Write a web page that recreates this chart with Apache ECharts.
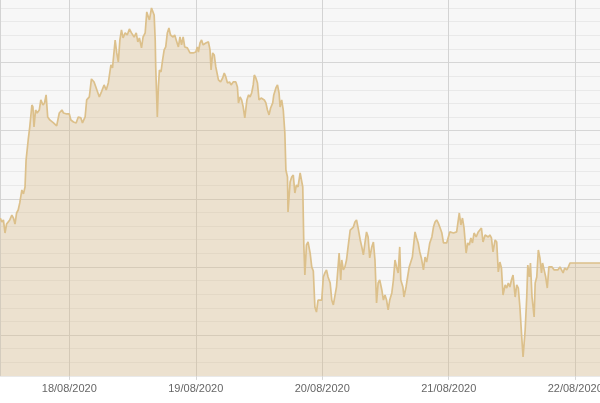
<!DOCTYPE html>
<html>
<head>
<meta charset="utf-8">
<script src="https://cdn.jsdelivr.net/npm/echarts@6/dist/echarts.min.js"></script>
<style>
html,body{margin:0;padding:0;background:#fff;}
#chart{width:600px;height:403px;}
</style>
</head>
<body>
<div id="chart"></div>
<script>
// Time of each reading, in hours since 17/08/2020 00:00
var hoursSinceAug17 = [
10.9,11.2,11.5,11.8,12.1,12.4,12.7,13.1,13.4,13.7,
14.0,14.3,14.6,15.0,15.3,15.6,15.8,16.2,16.5,16.9,
17.1,17.3,17.6,17.9,18.3,18.6,19.0,19.3,19.6,19.9,
20.3,21.0,21.6,22.1,22.6,22.9,23.5,24.0,24.3,24.8,
25.3,25.7,26.2,26.5,27.0,27.3,27.8,28.2,28.7,29.1,
29.4,29.7,30.1,30.6,31.0,31.4,31.9,32.2,32.7,33.0,
33.3,33.6,33.9,34.2,34.6,35.0,35.4,35.8,36.3,36.7,
37.0,37.3,37.7,38.0,38.4,38.7,39.0,39.2,39.6,39.9,
40.1,40.3,40.4,40.7,40.9,41.1,41.4,41.7,42.0,42.3,
42.6,42.9,43.2,43.7,44.0,44.4,44.7,45.0,45.3,45.6,
45.9,46.4,46.9,47.5,48.0,48.3,48.5,48.8,49.1,49.4,
49.9,50.4,50.7,50.9,51.2,51.5,51.8,52.3,52.7,53.1,
53.4,53.7,54.0,54.4,54.7,55.1,55.6,55.9,56.1,56.4,
56.7,57.0,57.3,57.7,58.0,58.3,58.6,58.9,59.1,59.4,
59.7,60.0,60.4,60.7,61.0,61.3,61.6,61.9,62.2,62.6,
62.8,63.2,63.5,63.8,64.0,64.3,64.6,64.9,65.1,65.4,
65.5,65.9,66.2,66.5,66.8,67.1,67.4,67.8,68.1,68.3,
68.5,68.7,69.0,69.3,69.7,70.0,70.3,70.6,70.9,71.2,
71.9,72.2,72.5,72.8,73.1,73.5,73.8,74.1,74.4,74.7,
75.0,75.2,75.5,75.7,76.0,76.3,76.6,76.9,77.3,77.6,
77.9,78.2,78.5,78.8,79.2,79.5,79.8,80.1,80.4,80.7,
81.0,81.4,81.7,82.0,82.3,82.6,82.9,83.3,83.6,83.9,
84.2,84.5,84.8,85.2,85.5,85.8,86.1,86.4,86.7,86.9,
87.3,87.5,87.9,88.1,88.5,88.8,89.1,89.6,89.9,90.2,
90.5,90.8,91.2,91.5,91.8,92.1,92.4,92.8,93.1,93.4,
93.7,94.0,94.3,94.7,95.0,95.6,95.9,96.2,96.9,97.5,
98.0,98.3,98.6,98.9,99.3,99.6,99.9,100.2,100.5,100.8,
101.2,101.6,101.9,102.2,102.5,102.9,103.2,103.5,103.8,104.1,
104.4,104.8,105.1,105.4,105.7,106.0,106.3,106.7,107.0,107.3,
107.6,107.9,108.2,108.6,108.9,109.2,109.5,109.8,110.1,110.5,
110.8,111.0,111.3,111.5,111.8,112.2,112.4,112.7,113.0,113.3,
113.6,113.8,114.1,114.4,114.7,115.0,115.3,115.6,116.0,116.3,
116.7,117.1,117.4,117.7,118.0,118.4,118.7,119.0,124.7
];
// Reading at each time (grid units above the chart floor)
var values = [
11.59,11.30,11.45,10.49,11.15,11.30,11.45,11.81,11.59,11.15,
11.96,12.18,12.70,13.65,13.36,13.87,15.85,17.32,18.28,19.89,
19.74,18.28,19.52,19.30,19.52,20.26,19.89,20.04,20.63,19.01,
18.79,18.57,18.35,19.30,19.52,19.30,19.23,19.23,18.79,18.64,
18.57,19.01,18.94,18.57,19.01,20.26,20.48,21.80,21.58,21.14,
21.21,20.48,20.85,21.36,20.99,21.51,22.83,22.61,24.66,23.71,
23.05,24.66,25.40,24.81,25.18,25.03,25.47,25.18,24.88,25.18,
24.52,24.81,24.08,24.88,25.18,26.72,26.35,26.13,27.01,26.87,
26.50,24.66,22.68,19.01,21.21,22.46,22.31,23.19,23.93,24.15,
25.18,25.54,25.03,24.88,25.03,24.52,24.15,24.88,24.30,24.88,
24.15,24.08,23.71,23.71,23.78,24.15,23.78,24.44,24.66,24.30,
24.44,24.52,23.93,22.46,23.71,23.56,22.68,21.73,21.58,21.87,
22.24,21.95,21.51,21.58,21.36,21.58,21.58,21.21,20.04,20.48,
20.26,19.74,18.94,20.26,20.63,20.48,20.77,21.36,22.09,21.87,
21.51,20.26,20.40,20.40,20.26,20.04,19.52,19.16,19.67,20.04,
20.63,21.14,21.36,20.77,19.74,20.26,19.52,17.83,15.12,14.60,
12.03,14.24,14.60,14.75,13.43,14.02,13.87,14.90,14.97,13.87,
9.61,7.41,9.61,9.83,9.02,8.00,7.70,5.06,4.69,5.57,
5.57,7.26,7.56,7.78,7.26,6.82,5.57,5.21,5.35,6.53,
8.00,9.02,7.04,8.51,7.78,8.00,8.51,9.47,10.71,10.57,
10.93,11.30,11.45,10.86,9.98,9.47,8.88,9.76,10.57,10.20,
8.66,9.47,9.83,8.51,5.35,6.82,7.04,6.31,5.57,5.94,
5.57,4.84,5.57,6.09,7.04,8.51,8.00,7.56,9.47,7.04,
6.53,5.79,6.53,7.04,8.00,8.14,8.73,10.57,10.13,9.76,
9.10,8.66,7.78,8.73,8.36,9.02,9.76,10.20,10.93,11.30,
11.45,11.23,10.93,10.49,9.76,9.76,9.76,10.57,10.49,10.57,
11.96,11.08,11.59,10.86,9.02,9.76,9.61,10.13,9.76,10.49,
10.20,10.57,10.71,10.86,9.83,10.35,10.49,10.20,10.35,10.13,
9.10,9.98,9.83,7.63,8.36,7.92,5.94,6.68,6.45,6.82,
6.53,7.04,7.41,5.79,6.68,6.45,5.06,3.15,1.39,3.37,
5.79,8.14,7.26,8.29,5.79,4.33,6.82,7.26,9.24,8.66,
7.56,8.29,7.78,7.26,6.45,8.00,8.14,8.00,7.78,7.92,
7.78,8.00,7.92,7.56,7.92,7.78,8.00,8.29,8.29
];
var startDate = new Date(2020, 7, 17).getTime();
var HOUR = 3600000;
var axisStartHour = 10.85;
var axisEndHour = 124.7;

var seriesData = hoursSinceAug17.map(function (h, i) {
  return [startDate + h * HOUR, values[i]];
});

function pad(n) { return n < 10 ? '0' + n : '' + n; }

var minorC = '#e9e9e9', majorC = '#d6d6d6';
var chart = echarts.init(document.getElementById('chart'), null, {renderer: 'canvas'});
chart.setOption({
  animation: false,
  backgroundColor: '#ffffff',
  grid: {
    left: 0, right: 0, top: -5.5, bottom: 27.1,
    show: true, backgroundColor: '#f7f7f7', borderWidth: 0,
    containLabel: false,
    outerBoundsMode: 'none'
  },
  xAxis: {
    type: 'time',
    min: startDate + axisStartHour * HOUR,
    max: startDate + axisEndHour * HOUR,
    minInterval: 24 * HOUR,
    maxInterval: 24 * HOUR,
    axisLine: {show: false},
    axisTick: {show: true, length: 4, lineStyle: {color: '#d6d6d6'}},
    splitLine: {show: true, lineStyle: {color: '#d3d3d3', width: 1}},
    axisLabel: {
      margin: 8,
      color: '#666666',
      fontFamily: 'Liberation Sans, Arial, sans-serif',
      fontSize: 11,
      hideOverlap: false,
      formatter: function (v) {
        var d = new Date(v);
        return pad(d.getDate()) + '/' + pad(d.getMonth() + 1) + '/' + d.getFullYear();
      }
    }
  },
  yAxis: {
    type: 'value',
    min: 0, max: 28, interval: 1,
    axisLine: {show: false},
    axisTick: {show: false},
    axisLabel: {show: false},
    splitLine: {
      show: true,
      lineStyle: {color: [minorC, minorC, minorC, majorC, minorC], width: 1}
    }
  },
  series: [{
    type: 'line',
    data: seriesData,
    showSymbol: false,
    symbol: 'none',
    sampling: null,
    lineStyle: {color: '#dcc08b', width: 1.7},
    areaStyle: {color: 'rgba(214,180,122,0.45)', origin: 'start'},
    z: 2
  }]
});
</script>
</body>
</html>
